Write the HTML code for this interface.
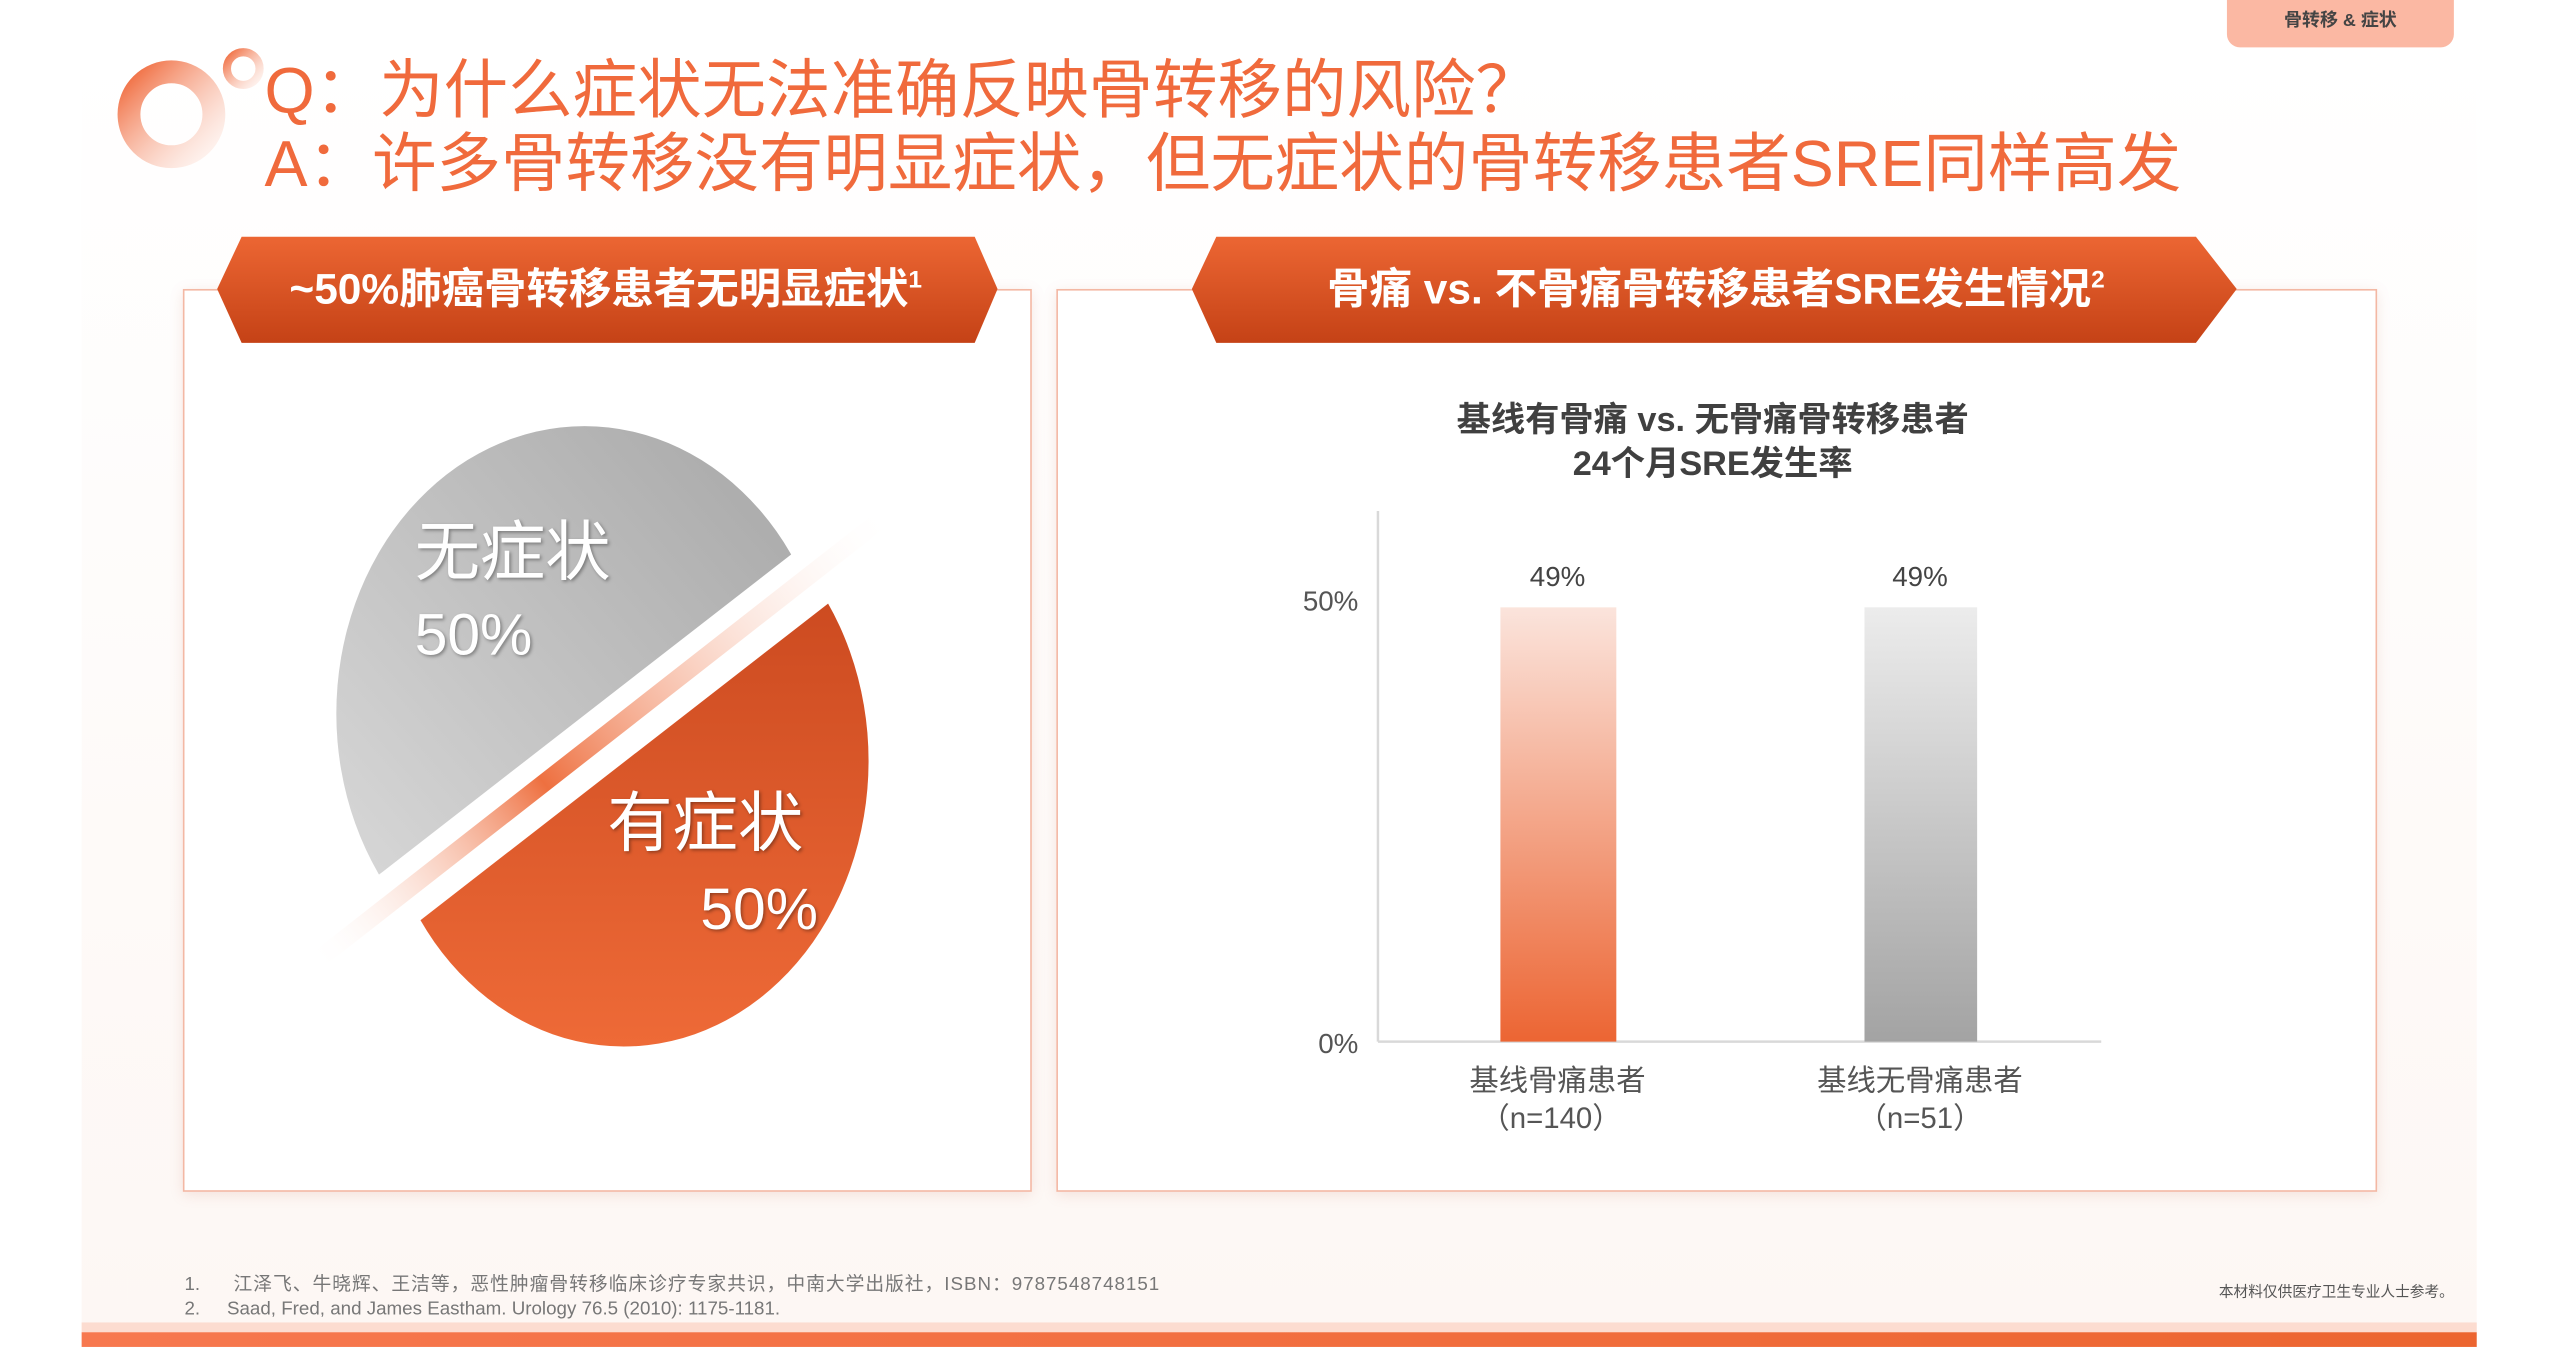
<!DOCTYPE html>
<html><head><meta charset="utf-8"><style>
html,body{margin:0;padding:0;background:#fff;}
body{width:2560px;height:1347px;overflow:hidden;position:relative;}
#s{position:absolute;left:0;top:0;width:1568px;height:825px;transform:scale(1.63265);transform-origin:0 0;font-family:"Liberation Sans","Noto Sans CJK SC",sans-serif;}
.a{position:absolute;}
.card{position:absolute;background:#fff;border:1px solid #f3b8a4;box-shadow:0 2px 8px rgba(200,120,100,.18);}
</style></head><body><div id="s">
<div class="a" style="left:50px;top:30px;width:1467px;height:786px;background:linear-gradient(#fff,#fdf7f4);"></div>
<div class="a" style="left:50px;top:810px;width:1467px;height:6px;background:#fcdcd0;"></div>
<div class="a" style="left:50px;top:816px;width:1467px;height:9px;background:linear-gradient(90deg,#f7784f,#ec6530);"></div>
<div class="a" style="left:1364px;top:0;width:139px;height:29px;background:#fbb8a3;border-radius:0 0 8px 8px;text-align:center;font-size:11px;line-height:26px;font-weight:bold;color:#444;">骨转移 &amp; 症状</div>
<svg class="a" style="left:60px;top:20px" width="110" height="95">
<defs><linearGradient id="lg" x1="0" y1="0" x2="1" y2="1"><stop offset="0" stop-color="#f06a3c"/><stop offset="1" stop-color="#fde6de" stop-opacity=".4"/></linearGradient></defs>
<circle cx="45" cy="50" r="26" fill="none" stroke="url(#lg)" stroke-width="14"/>
<circle cx="89" cy="22" r="10" fill="none" stroke="url(#lg)" stroke-width="5"/>
</svg>
<div class="a" style="left:162px;top:34px;font-size:39.5px;line-height:45px;color:#f06a3c;white-space:nowrap;">Q：为什么症状无法准确反映骨转移的风险？<br>A：许多骨转移没有明显症状，但无症状的骨转移患者SRE同样高发</div>

<div class="card" style="left:112px;top:177px;width:518px;height:551px;"></div>
<div class="card" style="left:647px;top:177px;width:807px;height:551px;"></div>

<svg class="a" style="left:0;top:0" width="1568" height="825">
<defs>
<linearGradient id="ob" x1="0" y1="0" x2="0" y2="1"><stop offset="0" stop-color="#ec6633"/><stop offset="1" stop-color="#c54216"/></linearGradient>
<linearGradient id="gp" x1="0" y1="1" x2="1" y2="0"><stop offset="0" stop-color="#dedede"/><stop offset="1" stop-color="#a5a5a5"/></linearGradient>
<linearGradient id="op" x1="0" y1="0" x2="0" y2="1"><stop offset="0" stop-color="#c3421a"/><stop offset="1" stop-color="#ee6a37"/></linearGradient>
<linearGradient id="st" x1="192" y1="590" x2="545" y2="314" gradientUnits="userSpaceOnUse"><stop offset="0" stop-color="#fff" stop-opacity="0"/><stop offset=".4" stop-color="#ee7040"/><stop offset="1" stop-color="#fff" stop-opacity="0"/></linearGradient>
<linearGradient id="b1" x1="0" y1="0" x2="0" y2="1"><stop offset="0" stop-color="#fbe4dc"/><stop offset="1" stop-color="#ec6533"/></linearGradient>
<linearGradient id="b2" x1="0" y1="0" x2="0" y2="1"><stop offset="0" stop-color="#ececec"/><stop offset="1" stop-color="#a3a3a3"/></linearGradient>
<clipPath id="ct"><polygon points="-300,-100 900,-100 900,17 -300,949"/></clipPath>
<clipPath id="cb"><polygon points="900,17 -300,949 900,949"/></clipPath>
</defs>
<polygon points="148,145 597,145 611,177 597,210 148,210 133,177" fill="url(#ob)"/>
<polygon points="745,145 1345,145 1370,177 1345,210 745,210 730,177" fill="url(#ob)"/>
<text x="371" y="186" text-anchor="middle" font-size="26" fill="#fff" font-weight="bold">~50%肺癌骨转移患者无明显症状<tspan font-size="15" dy="-10">1</tspan></text>
<text x="1051" y="186" text-anchor="middle" font-size="26" fill="#fff" font-weight="bold">骨痛 vs. 不骨痛骨转移患者SRE发生情况<tspan font-size="15" dy="-10">2</tspan></text>

<ellipse cx="358" cy="437" rx="152" ry="176" fill="url(#gp)" clip-path="url(#ct)"/>
<g transform="translate(24,29)"><ellipse cx="358" cy="437" rx="150" ry="175" fill="url(#op)" clip-path="url(#cb)"/></g>
<line x1="192" y1="590" x2="545" y2="314" stroke="url(#st)" stroke-width="11"/>
<g fill="#fff" style="filter:drop-shadow(1px 1px 1px rgba(0,0,0,.35))">
<text x="254" y="352" font-size="40">无症状</text>
<text x="254" y="401" font-size="36">50%</text>
<text x="372" y="518" font-size="40">有症状</text>
<text x="501" y="569" font-size="36" text-anchor="end">50%</text>
</g>

<text x="1049" y="264" text-anchor="middle" font-size="21" font-weight="bold" fill="#404040">基线有骨痛 vs. 无骨痛骨转移患者</text>
<text x="1049" y="291" text-anchor="middle" font-size="21" font-weight="bold" fill="#404040">24个月SRE发生率</text>
<line x1="844" y1="313" x2="844" y2="638" stroke="#d9d9d9" stroke-width="1.5"/>
<line x1="844" y1="638" x2="1287" y2="638" stroke="#d9d9d9" stroke-width="1.5"/>
<text x="832" y="374" text-anchor="end" font-size="17" fill="#555">50%</text>
<text x="832" y="645" text-anchor="end" font-size="17" fill="#555">0%</text>
<rect x="919" y="372" width="71" height="266" fill="url(#b1)"/>
<rect x="1142" y="372" width="69" height="266" fill="url(#b2)"/>
<text x="954" y="359" text-anchor="middle" font-size="17" fill="#444">49%</text>
<text x="1176" y="359" text-anchor="middle" font-size="17" fill="#444">49%</text>
<text x="954" y="668" text-anchor="middle" font-size="18" fill="#555">基线骨痛患者</text>
<text x="950" y="691" text-anchor="middle" font-size="18" fill="#555">（n=140）</text>
<text x="1176" y="668" text-anchor="middle" font-size="18" fill="#555">基线无骨痛患者</text>
<text x="1176" y="691" text-anchor="middle" font-size="18" fill="#555">（n=51）</text>

<text x="113" y="790" font-size="11.5" fill="#777">1.</text>
<text x="143" y="790" font-size="11.5" fill="#777" letter-spacing="0.6">江泽飞、牛晓辉、王洁等，恶性肿瘤骨转移临床诊疗专家共识，中南大学出版社，ISBN：9787548748151</text>
<text x="113" y="805" font-size="11.5" fill="#777">2.</text>
<text x="139" y="805" font-size="11.5" fill="#777">Saad, Fred, and James Eastham. Urology 76.5 (2010): 1175-1181.</text>
<text x="1503" y="794" text-anchor="end" font-size="9" fill="#555">本材料仅供医疗卫生专业人士参考。</text>
</svg>
</div></body></html>
